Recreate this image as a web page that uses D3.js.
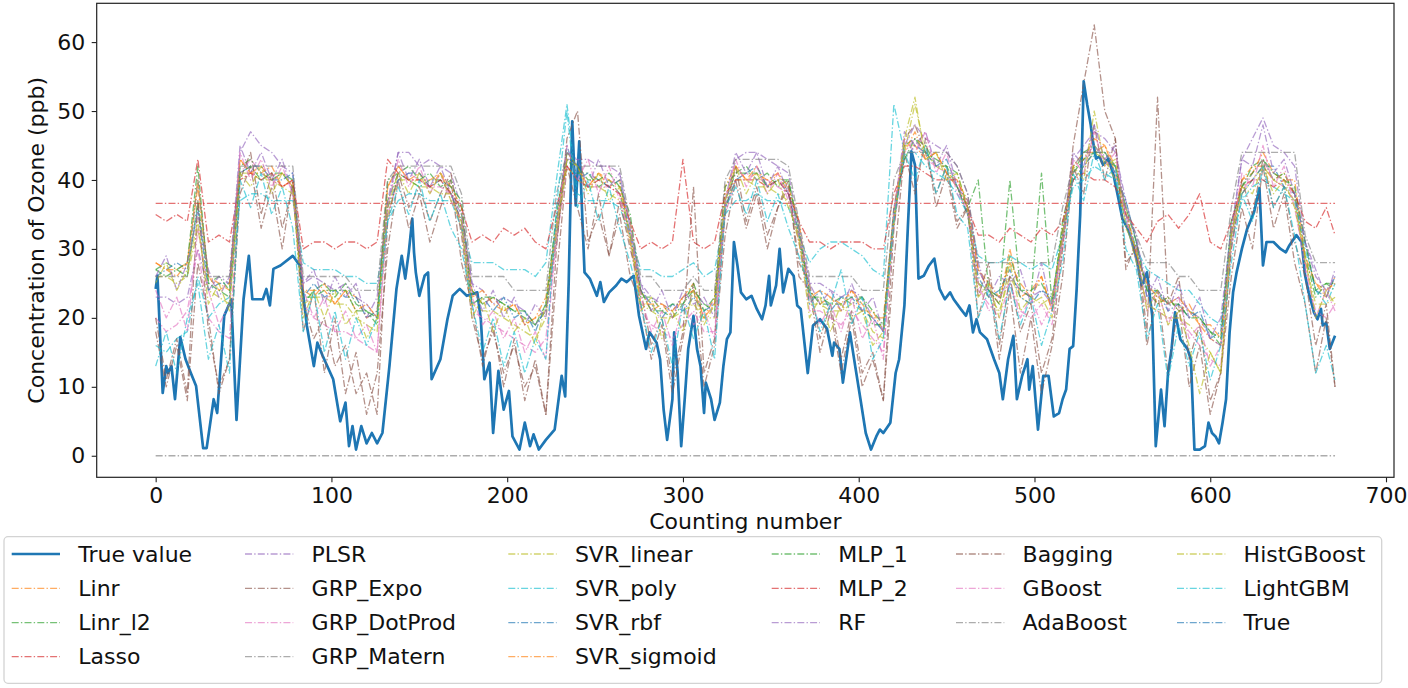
<!DOCTYPE html>
<html><head><meta charset="utf-8">
<script src="https://cdn.jsdelivr.net/npm/d3@7"></script>
<style>
body{margin:0;background:#fff}
svg text{font-family:"DejaVu Sans",sans-serif;fill:#111}
</style>
</head><body>
<svg id="chart" width="1408" height="688"></svg>
<script>
// ---------- DATA ----------
const trueX = [0,1,4,6,7,9,11,14,17,20,23,27,29,33,35,39,43,46,50,53,55,61,63,65,67,71,78,82,86,90,92,95,101,105,108,110,112,114,117,120,123,126,129,133,137,140,142,144,146,147,148,150,153,155,157,162,166,169,173,177,183,185,187,190,192,195,198,201,203,207,210,213,215,218,222,227,231,233,235,236,237,239,241,244,247,251,253,255,258,262,265,268,272,275,277,279,281,285,287,289,291,294,295,297,299,301,303,306,308,310,312,313,316,318,321,323,325,327,329,331,333,336,339,342,345,347,349,350,353,355,357,360,363,365,367,371,374,378,382,385,386,389,391,395,398,401,404,407,410,412,414,418,421,423,426,428,430,432,434,437,440,443,446,449,452,454,458,461,463,465,467,469,473,477,480,482,485,488,490,493,496,497,499,502,505,508,511,514,516,518,520,522,524,526,528,530,532,533,535,537,539,542,545,548,550,553,555,558,561,564,567,569,572,574,576,578,580,583,587,589,591,594,597,599,601,603,605,607,609,611,613,615,618,621,625,628,630,632,636,640,643,645,649,652,654,656,659,661,663,664,666,668,671];
const trueY = [24.2,26.1,9.1,13,12,13,8.2,17.2,14,12,10.1,1.1,1.1,8.2,6.2,20.3,22.7,5.2,22.7,29,22.7,22.7,24.2,21.8,27.1,27.6,29,27.6,18.9,13,16.4,14.5,11.1,5,7.7,1.4,4.3,0.9,4.3,1.8,3.3,1.8,3.3,13,24.2,29,25.7,29.5,34.4,29.5,26.6,23.2,26.1,26.6,11.1,14,19.8,23.2,24.2,23.2,23.7,19.8,11.1,13.5,3.3,12.3,6.7,9.4,2.8,0.9,4.8,1.4,3.1,0.9,2.3,3.8,11.6,8.6,25.2,36.8,48.5,36.3,45.6,26.6,25.7,23.2,25.2,22.3,23.7,24.7,25.7,25.2,26.1,20.3,17.9,15.5,17.9,16.4,14,6.7,2.3,8.2,17.9,12,1.4,8.2,15.5,20.3,15.5,13,6.2,10.6,8.2,5.2,7.7,13,16.9,17.9,31,27.6,23.7,22.7,23.2,21.3,19.8,21.8,26.1,21.8,24.7,30,23.7,27.1,26.1,21.8,21.3,12,18.9,19.8,18.4,14.5,16.4,15.5,10.6,17.9,13,8.2,3.3,0.9,2.8,3.8,3.3,4.8,12,14,21.8,33.4,44.1,42.2,25.7,26.1,27.6,28.6,24.2,22.7,23.7,22.7,21.3,20.3,21.8,17.9,19.8,17.9,16.9,14,12,8.2,14,17.4,8.2,11.6,14,9.6,13,3.8,11.6,11.6,5.7,6.2,8.2,9.6,15.5,15.9,24.2,34.9,54.3,50.9,48,46,43.1,43.4,42.2,43.1,40.7,37,34.4,33,31.5,28.6,24.7,26.6,20.3,1.4,9.6,4.3,12,15.5,20.8,16.9,15.5,14,0.9,0.9,1.4,4.8,3.3,2.8,1.8,4.8,8.2,17.9,23.7,26.6,30,32.9,35.4,38.8,27.6,31,31,30,29.5,30.5,32,31,26.1,23.7,20.8,19.8,21.3,18.9,19.3,15.5,17.4];

const predX = [0,6,12,18,24,30,36,42,48,54,60,66,72,78,84,90,96,102,108,114,120,126,132,138,144,150,156,162,168,174,180,186,192,198,204,210,216,222,228,234,240,246,252,258,264,270,276,282,288,294,300,306,312,318,324,330,336,342,348,354,360,366,372,378,384,390,396,402,408,414,420,426,432,438,444,450,456,462,468,474,480,486,492,498,504,510,516,522,528,534,540,546,552,558,564,570,576,582,588,594,600,606,612,618,624,630,636,642,648,654,660,666,671];
const flatX = [0, 671];

const linrY = [28,27,26,28,40,26,25,24,43,41, 42,40,41,39,24,23,25,22,24,23, 20,21,39,42,40,41,39,41,38,34, 24,22,23,21,22,19,20,21,34,43, 42,39,41,39,40,31,24,21,22,20, 23,25,20,23,37,42,40,42,39,41, 38,31,24,22,23,21,24,21,21,18, 36,45,45,43,44,41,39,36,27,24, 22,30,23,24,26,21,32,42,44,44, 45,41,35,29,25,22,23,21,22,19, 17,16,32,40,42,42,40,41,38,28, 25,23,26];
const linrL2Y = [27,28,27,26,37,25,26,24,42,43, 41,40,41,39,22,24,25,23,25,22, 21,19,37,41,42,40,41,39,40,35, 24,22,23,22,21,20,19,21,32,43, 41,41,39,40,38,32,23,23,21,20, 22,24,22,21,37,41,42,40,41,39, 40,32,24,22,22,23,22,23,19,19, 34,45,46,45,42,42,41,36,25,24, 22,29,24,24,25,22,34,41,44,45, 43,42,35,30,24,22,23,21,21,20, 18,16,32,39,42,43,40,41,38,29, 23,25,24];
const lassoY = [36.6, 36.6];
const plsrY = [23,23,22,23,30,24,26,25,44,47, 45,44,42,41,25,26,25,24,25,23, 22,20,36,44,44,42,43,42,41,36, 25,24,22,23,22,21,19,21,31,43, 43,43,42,42,41,33,25,23,22,21, 23,24,22,22,36,43,44,44,43,42, 41,33,25,25,24,23,24,23,20,18, 34,45,48,46,45,44,42,38,27,24, 23,26,24,23,24,22,31,43,45,47, 46,44,37,31,25,24,22,23,21,20, 17,16,32,43,46,49,45,44,42,31, 26,24,26];
const grpExpoY = [18,10,16,8,28,20,9,14,38,42, 33,39,30,40,18,24,12,20,9,15, 6,12,30,40,33,38,31,36,40,28, 22,13,19,10,17,8,14,6,26,42, 36,30,38,29,35,26,22,14,19,9, 17,25,10,16,32,40,33,38,30,36, 40,26,24,15,21,12,20,10,14,8, 28,44,38,46,36,41,33,36,20,26, 14,24,12,20,9,16,26,42,38,48, 40,46,28,30,16,24,12,22,10,16, 6,12,26,36,30,42,33,38,28,22, 12,20,10];
const grpDotY = [20,18,19,21,30,20,18,17,41,43, 41,40,39,40,22,20,19,18,18,17, 16,15,35,40,41,40,39,39,38,33, 21,20,19,18,17,16,15,17,31,42, 40,39,39,39,38,31,21,19,18,17, 19,21,18,18,35,40,41,40,40,39, 38,31,21,21,20,19,21,19,17,15, 33,44,46,43,42,41,39,35,24,22, 20,25,21,20,22,19,30,41,43,45, 43,41,35,28,22,21,20,20,18,16, 14,13,30,38,41,43,40,39,37,27, 21,20,22];
const grpMaternY = [0, 0];
const svrLinY = [26,26,25,26,33,24,23,22,41,41, 40,40,39,38,22,23,23,22,22,20, 19,18,35,40,40,39,39,38,38,33, 22,21,21,20,19,18,17,20,32,42, 40,39,39,38,37,31,22,21,20,20, 21,22,20,20,36,40,40,39,39,38, 37,31,22,22,21,21,22,21,18,17, 34,44,51,44,42,41,39,35,25,23, 21,26,23,22,23,20,31,40,42,44, 43,40,34,28,22,21,20,20,19,17, 15,12,31,38,40,42,40,39,37,28, 22,22,23];
const svrPolyY = [16,15,17,18,26,20,22,23,37,38, 38,37,37,37,28,27,27,27,26,26, 25,25,34,37,38,38,37,37,37,33, 28,28,28,27,27,27,26,28,40,51, 38,37,37,37,36,32,27,27,26,26, 27,28,26,27,35,37,37,38,37,37, 36,32,28,30,31,31,30,29,27,26, 51,44,44,42,41,40,38,35,29,28, 28,29,28,27,28,27,32,39,40,42, 41,40,34,30,27,26,25,24,24,22, 20,19,31,37,39,40,39,38,37,30, 24,22,25];
const svrRbfY = [26,27,28,27,36,24,25,25,41,42, 42,40,40,41,23,25,23,24,23,23, 20,21,36,40,41,41,39,40,38,34, 22,23,21,23,20,21,18,22,34,45, 40,41,40,39,40,32,24,22,20,22, 21,23,21,22,36,40,41,42,39,40, 38,32,22,24,21,23,23,21,20,18, 36,43,45,44,42,43,39,35,26,23, 24,27,23,22,24,23,32,40,42,44, 44,41,37,31,23,24,21,22,20,21, 17,18,34,38,40,42,42,39,38,31, 24,23,26];
const svrSigY = [28,27,27,28,39,26,24,25,43,41, 41,42,39,40,24,24,24,22,24,21, 22,20,39,42,40,40,40,41,39,36, 23,24,22,21,22,19,20,23,33,44, 42,39,41,40,39,34,22,22,22,21, 23,24,20,22,39,42,40,41,40,41, 39,34,23,24,23,22,24,22,20,20, 35,44,47,43,44,41,40,37,27,25, 23,28,25,23,26,21,33,42,43,46, 45,42,36,29,25,23,22,23,21,19, 19,17,33,40,41,44,41,40,40,29, 25,24,25];
const mlp1Y = [27,26,27,28,42,25,24,23,41,42, 40,41,41,40,23,23,24,24,24,21, 21,20,40,41,40,39,40,40,39,37, 22,23,23,22,21,21,19,22,35,44, 42,40,40,41,39,35,24,21,21,22, 22,25,21,23,39,41,41,41,39,40, 40,33,23,23,22,22,23,23,21,19, 35,43,46,44,43,42,39,36,40,24, 23,40,24,23,41,22,33,41,43,44, 44,42,36,31,24,24,22,22,20,20, 18,17,34,39,41,43,41,40,39,31, 24,25,25];
const mlp2Y = [35,34,35,34,43,31,32,31,40,41, 40,41,39,40,30,31,31,30,31,31, 30,31,43,41,40,40,39,40,38,36, 31,32,31,33,32,33,31,30,36,42, 40,39,40,39,38,34,30,31,30,31, 43,31,30,31,38,40,40,40,39,40, 38,34,31,31,30,31,31,31,30,30, 38,42,42,41,40,40,40,36,32,32, 31,33,32,31,33,32,34,40,41,40, 40,39,35,33,31,34,35,33,35,38, 31,30,34,39,40,40,39,40,38,34, 33,36,32];
const rfY = [26,29,24,28,35,27,23,26,45,41, 44,40,43,38,25,27,22,26,23,25, 20,23,37,44,40,43,39,42,38,35, 25,21,24,20,23,19,22,20,33,44, 43,39,43,39,41,33,25,21,24,20, 24,22,23,20,37,44,41,44,39,42, 38,33,25,22,24,21,25,21,23,18, 35,47,45,47,42,45,39,37,28,23, 26,25,27,22,28,21,32,44,42,48, 43,45,35,32,23,26,21,25,20,23, 17,20,33,43,42,48,41,43,38,31, 27,23,27];
const baggingY = [20,11,17,9,37,18,10,14,40,44, 35,41,33,39,22,17,20,13,16,9, 12,6,34,41,36,39,34,38,41,32, 20,14,18,12,16,10,13,6,30,46, 50,31,35,29,37,30,24,16,20,11, 18,39,12,17,35,42,34,39,32,36, 39,28,25,17,22,14,21,12,15,8, 33,46,48,44,38,42,34,36,23,28, 16,26,18,22,12,17,30,45,54,62.5, 50,46,27,31,18,52,22,26,14,19, 8,12,30,40,35,43,36,39,31,26, 16,22,10];
const gboostY = [24,20,23,18,33,24,19,22,44,40, 43,39,42,38,24,20,23,18,21,17, 19,15,36,43,39,42,38,41,37,34, 23,19,21,17,20,15,18,14,33,45, 40,43,38,42,37,32,23,18,21,16, 22,19,21,17,37,43,39,42,38,41, 37,32,23,19,22,18,23,17,20,14, 35,46,44,47,41,44,38,36,25,21, 23,25,20,23,19,22,31,43,41,47, 42,44,34,30,21,24,19,23,17,19, 13,16,31,41,39,45,39,42,36,28, 20,24,21];
const adaY = [26,26,26,26,40,26,26,26,42,42, 42,42,42,42,26,26,26,26,26,24, 24,24,40,42,42,42,42,42,42,38, 26,26,26,26,24,24,24,24,38,44, 42,42,42,42,42,34,26,26,24,24, 24,26,24,24,40,43,43,43,43,43, 42,34,26,26,26,26,26,24,24,24, 40,44,44,44,44,44,42,38,28,28, 28,28,28,28,28,28,36,42,44,44, 44,42,36,32,28,28,28,26,26,24, 24,24,36,44,44,44,44,44,44,32, 28,28,28];
const histY = [25,28,24,27,34,22,25,21,41,39, 42,38,41,39,20,24,20,24,19,21, 17,20,36,41,38,41,38,41,37,34, 20,23,18,22,18,20,16,22,33,43, 42,38,41,37,39,32,21,23,17,21, 18,24,19,22,37,42,38,41,38,40, 36,32,20,23,18,22,20,21,16,18, 34,46,52,43,44,40,41,36,23,25, 20,28,21,23,22,23,32,42,40,50, 42,43,33,30,21,24,19,21,16,9, 15,12,32,39,38,42,38,40,36,29, 20,24,22];
const lgbmY = [13,18,12,20,25,14,19,12,40,36, 41,35,39,33,18,24,15,21,14,20, 16,20,34,39,35,40,34,38,33,30, 22,15,20,13,18,12,17,14,36,50, 36,40,34,39,33,28,22,15,20,13, 22,17,21,14,36,39,35,40,34,38, 33,29,24,18,22,27,19,23,14,17, 34,44,40,45,38,42,35,33,20,24, 17,25,19,23,16,21,28,41,37,44, 40,42,30,27,17,22,11,19,13,18, 11,16,28,38,34,42,36,39,32,22, 12,16,11];

const xTicks = [0,100,200,300,400,500,600,700];
const yTicks = [0,10,20,30,40,50,60];

// ---------- SERIES ----------
const tab = ["#1f77b4","#ff7f0e","#2ca02c","#d62728","#9467bd","#8c564b","#e377c2","#7f7f7f","#bcbd22","#17becf"];
const series = [
  {name:"True value", xs:trueX, ys:trueY, c:0, solid:true},
  {name:"Linr", xs:predX, ys:linrY, c:1},
  {name:"Linr_l2", xs:predX, ys:linrL2Y, c:2},
  {name:"Lasso", xs:flatX, ys:lassoY, c:3},
  {name:"PLSR", xs:predX, ys:plsrY, c:4},
  {name:"GRP_Expo", xs:predX, ys:grpExpoY, c:5},
  {name:"GRP_DotProd", xs:predX, ys:grpDotY, c:6},
  {name:"GRP_Matern", xs:flatX, ys:grpMaternY, c:7},
  {name:"SVR_linear", xs:predX, ys:svrLinY, c:8},
  {name:"SVR_poly", xs:predX, ys:svrPolyY, c:9},
  {name:"SVR_rbf", xs:predX, ys:svrRbfY, c:0},
  {name:"SVR_sigmoid", xs:predX, ys:svrSigY, c:1},
  {name:"MLP_1", xs:predX, ys:mlp1Y, c:2},
  {name:"MLP_2", xs:predX, ys:mlp2Y, c:3},
  {name:"RF", xs:predX, ys:rfY, c:4},
  {name:"Bagging", xs:predX, ys:baggingY, c:5},
  {name:"GBoost", xs:predX, ys:gboostY, c:6},
  {name:"AdaBoost", xs:predX, ys:adaY, c:7},
  {name:"HistGBoost", xs:predX, ys:histY, c:8},
  {name:"LightGBM", xs:predX, ys:lgbmY, c:9},
  {name:"True", xs:trueX, ys:trueY, c:0}
];

// ---------- LAYOUT ----------
const L = 96.7, R = 1394, T = 3.3, B = 477.3;
const allX = series.flatMap(s => s.xs), allY = series.flatMap(s => s.ys);
const [x0, x1] = d3.extent(allX), [y0, y1] = d3.extent(allY);
const mx = (x1 - x0) * 0.05, my = (y1 - y0) * 0.05;
const x = d3.scaleLinear().domain([x0 - mx, x1 + mx]).range([L, R]);
const y = d3.scaleLinear().domain([y0 - my, y1 + my]).range([B, T]);

const svg = d3.select("#chart");
svg.append("rect").attr("width",1408).attr("height",688).attr("fill","#fff");

const dash = "7,2.2,1.4,2.2";
const line = d3.line().x(d => x(d[0])).y(d => y(d[1]));

series.forEach(s => {
  const pts = s.xs.map((v, i) => [v, s.ys[i]]);
  const p = svg.append("path").datum(pts).attr("d", line)
    .attr("fill","none").attr("stroke", tab[s.c]).attr("stroke-linejoin","round");
  if (s.solid) p.attr("stroke-width", 2.7);
  else p.attr("stroke-width", 1.3).attr("stroke-dasharray", dash).attr("stroke-opacity", 0.65);
});

// axes
const fs = 22;
const gx = svg.append("g").attr("transform", `translate(0,${B})`)
  .call(d3.axisBottom(x).tickValues(xTicks).tickSize(5).tickPadding(5).tickFormat(d3.format("d")));
const gy = svg.append("g").attr("transform", `translate(${L},0)`)
  .call(d3.axisLeft(y).tickValues(yTicks).tickSize(5).tickPadding(6.5).tickFormat(d3.format("d")));
[gx, gy].forEach(g => {
  g.select(".domain").remove();
  g.selectAll("line").attr("stroke","#222").attr("stroke-width",1.1);
  g.selectAll("text").attr("font-size", fs).attr("fill","#111").attr("font-family","DejaVu Sans, sans-serif");
});
svg.append("rect").attr("x",L).attr("y",T).attr("width",R-L).attr("height",B-T)
  .attr("fill","none").attr("stroke","#222").attr("stroke-width",1.2);

svg.append("text").attr("x",(L+R)/2).attr("y",529).attr("text-anchor","middle")
  .attr("font-size",fs).text("Counting number");
svg.append("text").attr("transform",`translate(44,${(T+B)/2}) rotate(-90)`).attr("text-anchor","middle")
  .attr("font-size",fs).text("Concentration of Ozone (ppb)");

// legend
const lg = svg.append("g");
lg.append("rect").attr("x",4).attr("y",536.7).attr("width",1377.7).attr("height",146.6)
  .attr("rx",4).attr("fill","#fff").attr("fill-opacity",0.8).attr("stroke","#d3d3d3").attr("stroke-width",1.3);
const colX = [11.7, 245, 508.3, 771.7, 956, 1177];
const rowY = [554, 588.3, 622.7, 656.7];
const perCol = [4,4,4,3,3,3];
let k = 0;
perCol.forEach((n, ci) => {
  for (let r = 0; r < n; r++, k++) {
    const s = series[k];
    const hx = colX[ci], cy = rowY[r];
    const h = lg.append("line").attr("x1",hx).attr("x2",hx+48.3).attr("y1",cy).attr("y2",cy)
      .attr("stroke",tab[s.c]);
    if (s.solid) h.attr("stroke-width",2.7);
    else h.attr("stroke-width",1.3).attr("stroke-dasharray",dash).attr("stroke-opacity",0.65);
    lg.append("text").attr("x",hx+66.6).attr("y",cy).attr("dy","0.35em")
      .attr("font-size",fs).text(s.name);
  }
});
</script>
</body></html>
